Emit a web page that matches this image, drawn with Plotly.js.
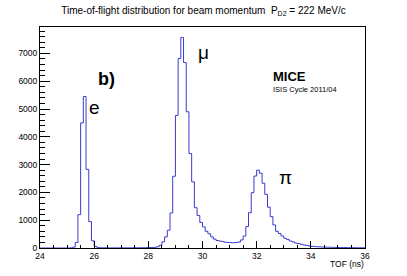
<!DOCTYPE html>
<html>
<head>
<meta charset="utf-8">
<script src="https://cdn.plot.ly/plotly-3.0.1.min.js"></script>
<style>html,body{margin:0;padding:0;background:#fff;}#chart{width:407px;height:276px;}</style>
</head>
<body>
<div id="chart"></div>
<script>
// Histogram: time-of-flight, bins of 0.1 ns from 24 to 36 ns
const binStart = 24.0;
const binWidth = 0.1;
const counts = [
  0, 0, 0, 0, 0, 0, 0, 0, 0, 0, 0, 5,            // 24.0 - 25.1
  30, 200, 1200, 4500, 5450, 2830, 950, 260, 60, 15, // 25.2 - 26.1
  8, 6, 5, 5, 4, 5, 4, 5, 5, 6, 5, 6, 6, 7, 8, 9, 10, 12, // 26.2 - 27.9
  14, 18, 25, 45, 100, 220, 400, 640, 1260, 2580, // 28.0 - 28.9
  4770, 6820, 7570, 6670, 4900, 3400, 2380, 1450, 1170, 920, // 29.0 - 29.9
  760, 600, 510, 400, 320, 270, 250, 230, 210, 200, // 30.0 - 30.9
  195, 190, 200, 215, 290, 430, 770, 1270, 1990, 2590, // 31.0 - 31.9
  2800, 2690, 2330, 1930, 1470, 1130, 830, 600, 520, 430, // 32.0 - 32.9
  350, 310, 250, 220, 180, 160, 135, 110, 90, 75, // 33.0 - 33.9
  60, 52, 45, 40, 35, 30, 28, 25, 22, 20, // 34.0 - 34.9
  18, 16, 15, 14, 12, 11, 10, 9, 8, 8 // 35.0 - 35.9
];
const xTickVals = [24, 26, 28, 30, 32, 34, 36];
const yTickVals = [0, 1000, 2000, 3000, 4000, 5000, 6000, 7000];
const peakLabels = ['e', 'μ', 'π'];
const peakLabelPos = [[26.0, 5050], [30.02, 7050], [33.05, 2520]];

const edges = counts.map((_, i) => +(binStart + binWidth * i).toFixed(2));
const stepX = edges.concat([+(binStart + binWidth * counts.length).toFixed(2)]);
const stepY = counts.concat([counts[counts.length - 1]]);

const FONT = 'Liberation Sans, Arial, Helvetica, sans-serif';

const trace = {
  type: 'scatter', mode: 'lines', x: stepX, y: stepY,
  line: {shape: 'hv', color: '#3a3ad0', width: 1},
  hoverinfo: 'skip', showlegend: false
};

const L = 40, R = 365, T = 27, B = 248, W = 407, H = 276;
function px(x) { return (x - L) / (R - L); }
function py(y) { return (B - y) / (B - T); }

const annotations = peakLabels.map((t, i) => ({
  x: peakLabelPos[i][0], y: peakLabelPos[i][1], xref: 'x', yref: 'y',
  text: t, showarrow: false, font: {family: FONT, size: 19, color: '#000'},
  xanchor: 'center', yanchor: 'middle'
}));
annotations.push(
  {x: px(106), y: py(79), xref: 'paper', yref: 'paper', text: '<b>b)</b>', showarrow: false,
   font: {family: FONT, size: 18, color: '#000'}, xanchor: 'center', yanchor: 'middle'},
  {x: px(271), y: py(76.5), xref: 'paper', yref: 'paper', text: '<b>MICE</b>', showarrow: false,
   font: {family: FONT, size: 13, color: '#000'}, xanchor: 'left', yanchor: 'middle'},
  {x: px(271), y: py(89), xref: 'paper', yref: 'paper', text: 'ISIS Cycle 2011/04', showarrow: false,
   font: {family: FONT, size: 7.5, color: '#000'}, xanchor: 'left', yanchor: 'middle'},
  {x: px(366), y: py(264), xref: 'paper', yref: 'paper', text: 'TOF (ns)', showarrow: false,
   font: {family: FONT, size: 8.5, color: '#000'}, xanchor: 'right', yanchor: 'middle'}
);

const layout = {
  width: W, height: H,
  margin: {l: L, r: W - R, t: T, b: H - B, pad: 0},
  paper_bgcolor: '#fff', plot_bgcolor: '#fff',
  font: {family: FONT, size: 8.5, color: '#000'},
  title: {text: 'Time-of-flight distribution for beam momentum  P<sub>D2</sub> = 222 MeV/c',
          x: 0.5, xref: 'container', xanchor: 'center', y: 1 - 10 / H, yref: 'container', yanchor: 'middle',
          font: {family: FONT, size: 10, color: '#000'}},
  xaxis: {range: [24, 36], tickvals: xTickVals, ticktext: xTickVals.map(String),
          ticks: 'inside', ticklen: 7, tickcolor: '#000', tickwidth: 1,
          minor: {ticks: 'inside', ticklen: 3.5, dtick: 0.5, tickcolor: '#000', tickwidth: 1, showgrid: false},
          showline: true, linecolor: '#000', linewidth: 1, mirror: true,
          showgrid: false, zeroline: false, tickfont: {family: FONT, size: 8.5, color: '#000'}},
  yaxis: {range: [0, 7950], tickvals: yTickVals, ticktext: yTickVals.map(String),
          ticks: 'inside', ticklen: 10, tickcolor: '#000', tickwidth: 1,
          minor: {ticks: 'inside', ticklen: 5, dtick: 200, tickcolor: '#000', tickwidth: 1, showgrid: false},
          showline: true, linecolor: '#000', linewidth: 1, mirror: true,
          showgrid: false, zeroline: false, tickfont: {family: FONT, size: 8.5, color: '#000'}},
  annotations: annotations
};

Plotly.newPlot('chart', [trace], layout, {staticPlot: true, displayModeBar: false});
</script>
</body>
</html>
